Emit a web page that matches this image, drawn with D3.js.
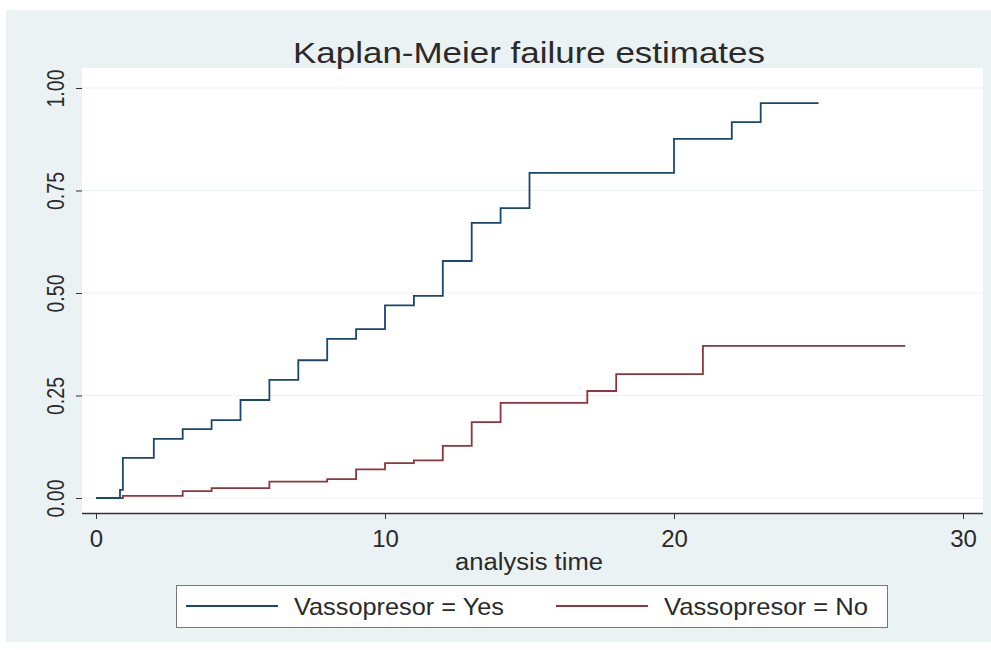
<!DOCTYPE html>
<html><head><meta charset="utf-8">
<script src="https://cdn.jsdelivr.net/npm/d3@7"></script>
<style>body{margin:0;background:#fff}svg{display:block}text{font-family:"Liberation Sans",Arial,sans-serif}</style>
</head><body><div id="chart"></div>
<script>
const title = "Kaplan-Meier failure estimates";
const xLabel = "analysis time";
const xTicks = [0, 10, 20, 30];
const yTicks = [0, 0.25, 0.5, 0.75, 1];
const seriesNames = ["Vassopresor = Yes", "Vassopresor = No"];
const seriesColors = ["#1a476f", "#90353b"];
// step times and failure estimates (value holds from that time onward)
const yesTimes  = [0, 0.83, 0.93, 2, 3, 4, 5, 6, 7, 8, 9, 10, 11, 12, 13, 14, 15, 20, 22, 23, 25];
const yesValues = [0, 0.02, 0.098, 0.144, 0.168, 0.19, 0.239, 0.288, 0.336, 0.388, 0.412, 0.47, 0.493, 0.578, 0.671, 0.707, 0.793, 0.876, 0.917, 0.963, 0.963];
const noTimes   = [0, 0.93, 3, 4, 6, 8, 9, 10, 11, 12, 13, 14, 17, 18, 21, 28];
const noValues  = [0, 0.005, 0.017, 0.024, 0.04, 0.046, 0.07, 0.085, 0.092, 0.127, 0.185, 0.232, 0.261, 0.302, 0.371, 0.371];

const W = 991, H = 650;
const svg = d3.select("#chart").append("svg").attr("width", W).attr("height", H);
svg.append("rect").attr("x", 6).attr("y", 10).attr("width", W - 6).attr("height", 632).attr("fill", "#eaf2f3");

const plot = {l: 82, r: 983, t: 68, b: 513};
svg.append("rect").attr("x", plot.l).attr("y", plot.t).attr("width", plot.r - plot.l).attr("height", plot.b - plot.t).attr("fill", "#fff");

const x = d3.scaleLinear().domain([0, 30]).range([96, 963]);
const y = d3.scaleLinear().domain([0, 1]).range([498, 88]);

// grid
svg.append("g").selectAll("line").data(yTicks).join("line")
  .attr("x1", plot.l).attr("x2", plot.r).attr("y1", d => y(d)).attr("y2", d => y(d))
  .attr("stroke", "#eaf2f3").attr("stroke-width", 1.2);

// x axis
const xa = svg.append("g").attr("transform", `translate(0,${plot.b})`)
  .call(d3.axisBottom(x).tickValues(xTicks).tickFormat(d3.format("d")).tickSize(6).tickSizeOuter(0));
xa.select(".domain").attr("d", `M${plot.l},0.5H${plot.r}`).attr("stroke", "#333").attr("stroke-width", 1.3);
xa.selectAll(".tick line").attr("stroke", "#333");
xa.selectAll(".tick text").attr("font-size", 24).attr("fill", "#2a2a2a").attr("y", 34).attr("dy", 0);

// y axis
const ya = svg.append("g").attr("transform", `translate(${plot.l},0)`)
  .call(d3.axisLeft(y).tickValues(yTicks).tickFormat(d3.format(".2f")).tickSize(6).tickSizeOuter(0));
ya.select(".domain").remove();
ya.selectAll(".tick line").attr("stroke", "#333");
ya.selectAll(".tick text").attr("font-size", 23).attr("fill", "#2a2a2a")
  .attr("text-anchor", "middle").attr("x", 0).attr("y", 0).attr("dy", 0)
  .attr("textLength", 38).attr("lengthAdjust", "spacingAndGlyphs")
  .attr("transform", "translate(-18,0) rotate(-90)");

// lines
const line = d3.line().curve(d3.curveStepAfter).x(d => x(d[0])).y(d => y(d[1]));
const yesData = yesTimes.map((t, i) => [t, yesValues[i]]);
const noData = noTimes.map((t, i) => [t, noValues[i]]);
svg.append("path").datum(noData).attr("d", line).attr("fill", "none").attr("stroke", seriesColors[1]).attr("stroke-width", 1.8);
svg.append("path").datum(yesData).attr("d", line).attr("fill", "none").attr("stroke", seriesColors[0]).attr("stroke-width", 1.8);

// title and label
svg.append("text").attr("x", 529).attr("y", 63).attr("text-anchor", "middle").attr("font-size", 30)
  .attr("textLength", 472).attr("lengthAdjust", "spacingAndGlyphs").attr("fill", "#2a2a2a").text(title);
svg.append("text").attr("x", 529).attr("y", 570).attr("text-anchor", "middle").attr("font-size", 23)
  .attr("textLength", 148).attr("lengthAdjust", "spacingAndGlyphs").attr("fill", "#2a2a2a").text(xLabel);

// legend
const lg = svg.append("g");
lg.append("rect").attr("x", 176.5).attr("y", 585.5).attr("width", 711).attr("height", 42).attr("fill", "#fff").attr("stroke", "#777").attr("stroke-width", 1);
const lx = [186, 556];
const tl = [210, 204];
seriesNames.forEach((n, i) => {
  lg.append("line").attr("x1", lx[i]).attr("x2", lx[i] + 92).attr("y1", 606).attr("y2", 606).attr("stroke", seriesColors[i]).attr("stroke-width", 1.8);
  lg.append("text").attr("x", lx[i] + 108).attr("y", 615).attr("font-size", 24)
    .attr("textLength", tl[i]).attr("lengthAdjust", "spacingAndGlyphs").attr("fill", "#2a2a2a").text(n);
});
</script></body></html>
